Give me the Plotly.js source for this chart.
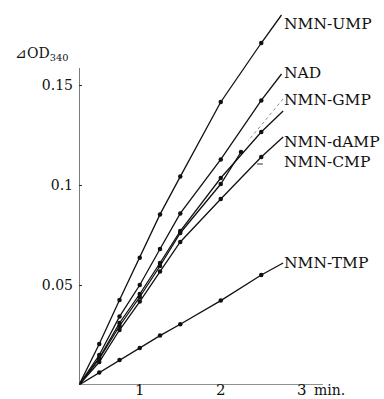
<!DOCTYPE html>
<html>
<head>
<meta charset="utf-8">
<script src="https://cdn.plot.ly/plotly-3.0.1.min.js"></script>
<style>
html,body{margin:0;padding:0;background:#fff;}
#chart{width:384px;height:399px;}
</style>
</head>
<body>
<div id="chart"></div>
<script>
// Time (min) of measured points
var times = [0.5, 0.75, 1.0, 1.25, 1.5, 2.0, 2.5];
var timesCMP = [0.5, 0.75, 1.0, 1.25, 1.5, 2.0, 2.25];
// Start of reaction (origin)
var startT = 0.25;
// Series values (ΔOD340)
var umpV  = [0.0205, 0.0425, 0.0636, 0.0853, 0.1042, 0.1415, 0.171];
var nadV  = [0.015, 0.0342, 0.050, 0.068, 0.0858, 0.1128, 0.1423];
var gmpV  = [0.0135, 0.031, 0.0455, 0.061, 0.077, 0.1035, 0.1265];
var cmpV  = [0.013, 0.0295, 0.044, 0.0595, 0.076, 0.1005, 0.1165];
var dampV = [0.0115, 0.0275, 0.0417, 0.0567, 0.0715, 0.093, 0.114];
var tmpV  = [0.0062, 0.0125, 0.0185, 0.0247, 0.0304, 0.0422, 0.055];
// Line ends (extension past last point)
var umpEnd  = [2.75, 0.185];
var nadEnd  = [2.75, 0.1555];
var gmpEnd  = [2.77, 0.137];
var dampEnd = [2.77, 0.124];
var tmpEnd  = [2.77, 0.061];
// Labels
var names = ['NMN-UMP', 'NAD', 'NMN-GMP', 'NMN-dAMP', 'NMN-CMP', 'NMN-TMP'];
var labelY = [0.1805, 0.156, 0.1425, 0.1215, 0.1115, 0.061];
var xTickVals = [1, 2, 3];
var xTickText = ['1', '2', '3'];
var yTickVals = [0.05, 0.1, 0.15];
var yTickText = ['0.05', '0.1', '0.15'];

var series = [
  {t: times, v: umpV, end: umpEnd},
  {t: times, v: nadV, end: nadEnd},
  {t: times, v: gmpV, end: gmpEnd},
  {t: timesCMP, v: cmpV, end: null},
  {t: times, v: dampV, end: dampEnd},
  {t: times, v: tmpV, end: tmpEnd}
];

var traces = [];
series.forEach(function(s){
  var lx = [startT].concat(s.t);
  var ly = [0].concat(s.v);
  if (s.end) { lx.push(s.end[0]); ly.push(s.end[1]); }
  traces.push({x: lx, y: ly, mode: 'lines', line: {color: '#111', width: 1.3}, hoverinfo: 'skip', showlegend: false});
  traces.push({x: s.t, y: s.v, mode: 'markers', marker: {color: '#111', size: 4.5}, hoverinfo: 'skip', showlegend: false});
});

var serif = 'DejaVu Serif';
var annotations = [];
names.forEach(function(n, i){
  annotations.push({x: 2.76, y: labelY[i], xref: 'x', yref: 'y', text: n, showarrow: false,
    xanchor: 'left', yanchor: 'middle', font: {family: serif, size: 15.5, color: '#111'}});
});
annotations.push({x: 0.955, y: -0.013, xref: 'paper', yref: 'paper', text: 'min.', showarrow: false,
  xanchor: 'left', yanchor: 'middle', font: {family: serif, size: 14, color: '#111'}});
annotations.push({x: -0.2705, y: 0.862, xref: 'paper', yref: 'paper', text: '⊿OD<sub>340</sub>', showarrow: false,
  xanchor: 'left', yanchor: 'middle', font: {family: serif, size: 14, color: '#111'}});

var layout = {
  width: 384, height: 399,
  margin: {l: 79, r: 61, t: 1, b: 14},
  paper_bgcolor: '#fff', plot_bgcolor: '#fff',
  font: {family: serif, color: '#111'},
  xaxis: {range: [0.25, 3.262], showgrid: false, zeroline: false, showline: false,
    anchor: 'free', position: 0.015,
    tickvals: xTickVals, ticktext: xTickText, ticks: '', tickfont: {family: serif, size: 15, color: '#111'}},
  yaxis: {range: [0, 0.192], showgrid: false, zeroline: false, showline: false,
    tickvals: yTickVals, ticktext: yTickText, ticks: 'inside', ticklen: 3, tickcolor: '#333',
    ticklabelstandoff: 5, tickfont: {family: serif, size: 14, color: '#111'}},
  shapes: [
    {type: 'line', xref: 'x', yref: 'y', x0: 0.25, x1: 0.25, y0: 0, y1: 0.1585, line: {color: '#222', width: 1.2}},
    {type: 'line', xref: 'x', yref: 'y', x0: 0.25, x1: 3.262, y0: 0, y1: 0, line: {color: '#222', width: 1.2}},
    {type: 'line', xref: 'x', yref: 'y', x0: 2.769, y0: 0.143, x1: 2.336, y1: 0.122, line: {color: '#888', width: 1, dash: 'dot'}},
    {type: 'line', xref: 'x', yref: 'y', x0: 2.447, y0: 0.1105, x1: 2.52, y1: 0.1105, line: {color: '#333', width: 1}}
  ],
  annotations: annotations
};

Plotly.newPlot('chart', traces, layout, {staticPlot: true, displayModeBar: false});
</script>
</body>
</html>
